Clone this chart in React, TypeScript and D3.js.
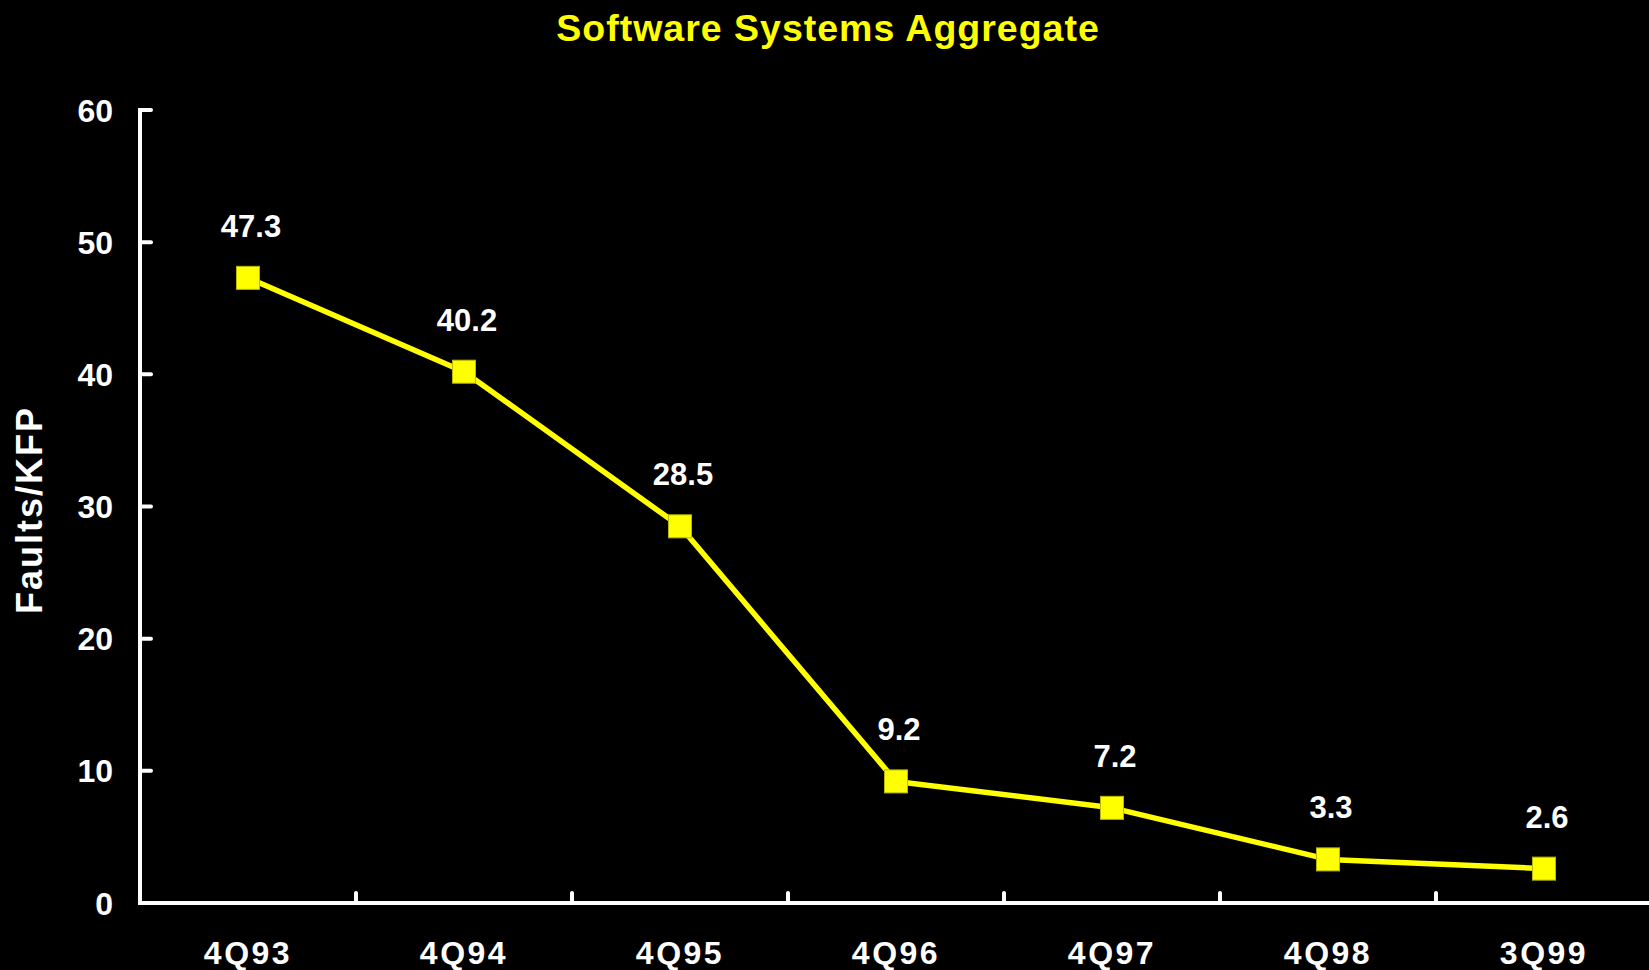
import React from "react";
import * as d3 from "d3";

const categories = ["4Q93", "4Q94", "4Q95", "4Q96", "4Q97", "4Q98", "3Q99"];
const faultsPerKFP = [47.3, 40.2, 28.5, 9.2, 7.2, 3.3, 2.6];
const yTicks = [0, 10, 20, 30, 40, 50, 60];
const title = "Software Systems Aggregate";
const yTitle = "Faults/KFP";

const W = 1649;
const H = 970;
const FONT = "'Liberation Sans', Arial, Helvetica, sans-serif";

export default function App() {
  const left = 140;
  const right = 1652;
  const top = 110;
  const bottom = 903;

  const x = d3.scaleBand<string>().domain(categories).range([left, right]).padding(0);
  const y = d3.scaleLinear().domain([0, 60]).range([bottom, top]);

  const cx = (c: string) => (x(c) as number) + x.bandwidth() / 2;
  const line = d3
    .line<number>()
    .x((_, i) => cx(categories[i]))
    .y((d) => y(d));

  const boundaries = categories.slice(1).map((c) => x(c) as number);
  const ms = 23;

  return (
    <div style={{ position: "absolute", left: 0, top: 0, width: W, height: H, background: "#000" }}>
      <svg width={W} height={H} style={{ display: "block", background: "#000" }} fontFamily={FONT}>
        <text x={828} y={41} textAnchor="middle" fill="#FFFF00" fontWeight="bold" fontSize={37.5} letterSpacing={1}>
          {title}
        </text>

        <text
          transform={`translate(42, 510) rotate(-90)`}
          textAnchor="middle"
          fill="#fff"
          fontWeight="bold"
          fontSize={36}
          letterSpacing={2}
        >
          {yTitle}
        </text>

        {/* y axis */}
        <line x1={left} x2={left} y1={top - 2} y2={bottom + 2} stroke="#fff" strokeWidth={4} />
        {yTicks.map((t) => (
          <g key={t}>
            <line x1={left} x2={left + 11} y1={y(t)} y2={y(t)} stroke="#fff" strokeWidth={4} strokeLinecap="round" />
            <text x={113} y={y(t)} dy="0.36em" textAnchor="end" fill="#fff" fontWeight="bold" fontSize={32}>
              {t}
            </text>
          </g>
        ))}

        {/* x axis */}
        <line x1={left - 2} x2={right} y1={bottom} y2={bottom} stroke="#fff" strokeWidth={4} />
        {boundaries.map((b, i) => (
          <line key={i} x1={b} x2={b} y1={bottom} y2={bottom - 10} stroke="#fff" strokeWidth={4} strokeLinecap="round" />
        ))}
        {categories.map((c) => (
          <text key={c} x={cx(c)} y={964} textAnchor="middle" fill="#fff" fontWeight="bold" fontSize={32} letterSpacing={2.5}>
            {c}
          </text>
        ))}

        {/* series */}
        <path d={line(faultsPerKFP) || ""} fill="none" stroke="#FFFF00" strokeWidth={5.5} strokeLinejoin="round" />
        {faultsPerKFP.map((v, i) => (
          <rect
            key={i}
            x={cx(categories[i]) - ms / 2}
            y={y(v) - ms / 2}
            width={ms}
            height={ms}
            fill="#FFFF00"
            stroke="#B8B800"
            strokeWidth={1}
          />
        ))}
        {faultsPerKFP.map((v, i) => (
          <text
            key={"l" + i}
            x={cx(categories[i]) + 3}
            y={y(v) - 41}
            textAnchor="middle"
            fill="#fff"
            fontWeight="bold"
            fontSize={31}
          >
            {v.toFixed(1)}
          </text>
        ))}
      </svg>
    </div>
  );
}
